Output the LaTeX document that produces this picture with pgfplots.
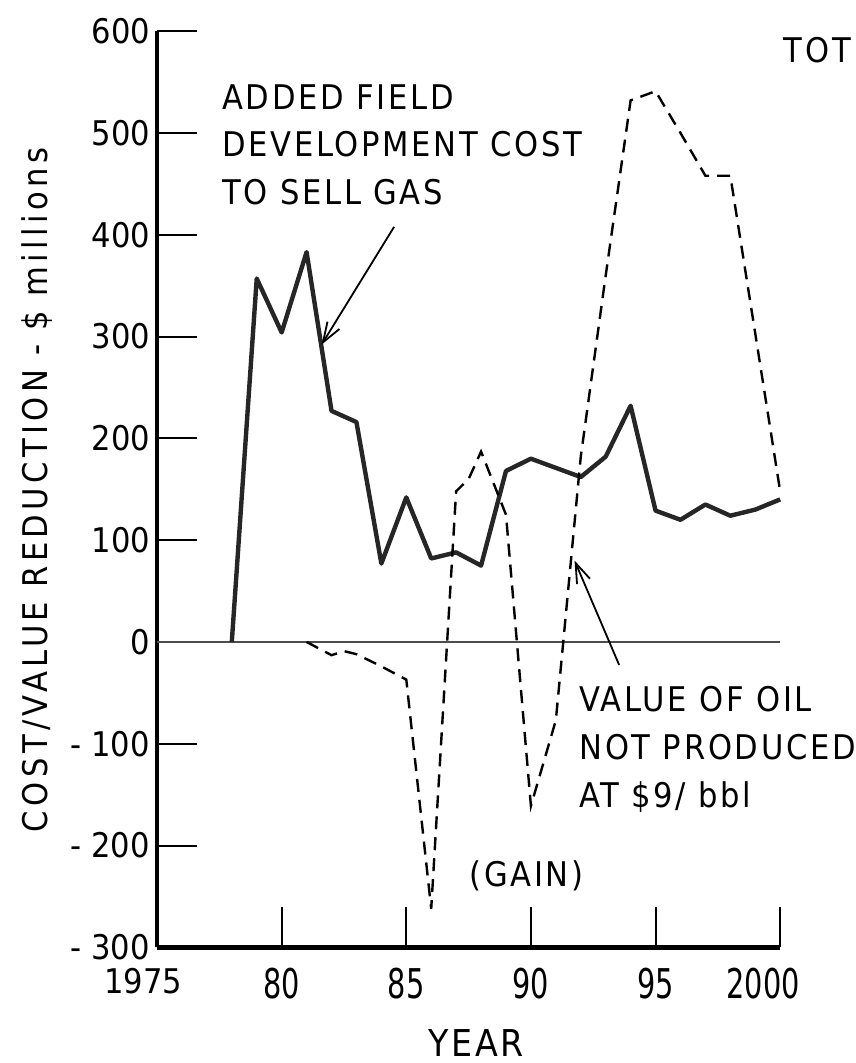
\documentclass[border=0pt]{standalone}
\usepackage{fontspec}
\setmainfont{DejaVu Sans Condensed}
\newfontfamily\annfont{DejaVu Sans Condensed}[LetterSpace=8]
\newfontfamily\ylfont{DejaVu Sans Condensed}[LetterSpace=13]
\newfontfamily\xtfont{DejaVu Sans Condensed}[FakeStretch=0.78]
\newfontfamily\ytfont{DejaVu Sans}[FakeStretch=0.9]
\usepackage{pgfplots}
\pgfplotsset{compat=1.18}
\usetikzlibrary{arrows.meta}

\pgfplotstableread{
year value
1978 0
1979 357
1980 304
1981 383
1982 227
1983 216
1984 77
1985 142
1986 82
1987 88
1988 75
1989 168
1990 180
1991 171
1992 162
1993 182
1994 232
1995 129
1996 120
1997 135
1998 124
1999 130
2000 140
}\fieldcost

\pgfplotstableread{
year value
1981 0
1982 -13
1982.5 -9
1983 -12
1984 -24
1985 -37
1986 -262
1987 148
1987.5 160
1988 187
1989 125
1990 -161
1991 -77
1992 182
1993 360
1994 532
1995 541
1996 500
1997 458
1998 458
2000 148
}\oilvalue

\begin{document}
\begin{tikzpicture}
\begin{axis}[
  scale only axis,
  width=311.5pt, height=458pt,
  xmin=1975, xmax=2000, ymin=-300, ymax=600,
  axis lines=left,
  axis line style={-, line width=2.2pt, black},
  tick align=inside,
  major tick length=20pt,
  tick style={line width=1pt, black},
  xtick={1975,1980,1985,1990,1995,2000},
  xticklabels={{\ytfont\fontsize{17}{17}\selectfont\hspace*{-14pt}1975},80,85,90,95,{\hspace*{-17pt}2000}},
  x tick label style={font=\xtfont\fontsize{20.5}{20.5}\selectfont, yshift=-7pt},
  ytick={-300,-200,-100,0,100,200,300,400,500,600},
  yticklabels={- 300,- 200,- 100,0,100,200,300,400,500,600},
  y tick label style={font=\ytfont\fontsize{17}{17}\selectfont},
  clip=false,
]
% zero line
\addplot[black!70, line width=1pt] coordinates {(1975,0) (2000,0)};
% added field development cost
\addplot[black!85, line width=2.2pt, line join=round] table[x=year, y=value] {\fieldcost};
% value of oil not produced
\addplot[black, line width=1.2pt, dash pattern=on 6.5pt off 4pt] table[x=year, y=value] {\oilvalue};

% annotations
\node[anchor=base west, inner sep=0, font=\annfont\fontsize{17}{17}\selectfont] at (axis cs:1977.6,522.6) {ADDED FIELD};
\node[anchor=base west, inner sep=0, font=\annfont\fontsize{17}{17}\selectfont] at (axis cs:1977.6,476.4) {DEVELOPMENT COST};
\node[anchor=base west, inner sep=0, font=\annfont\fontsize{17}{17}\selectfont] at (axis cs:1977.6,429.3) {TO SELL GAS};
\draw[line width=0.9pt, -{Straight Barb[length=10pt,width=7pt]}] (axis cs:1984.51,407.7) -- (axis cs:1981.6,292);

\node[anchor=base west, inner sep=0, font=\annfont\fontsize{17}{17}\selectfont] at (axis cs:1991.93,-68.8) {VALUE OF OIL};
\node[anchor=base west, inner sep=0, font=\annfont\fontsize{17}{17}\selectfont] at (axis cs:1991.93,-115.9) {NOT PRODUCED};
\node[anchor=base west, inner sep=0, font=\annfont\fontsize{17}{17}\selectfont] at (axis cs:1991.93,-163.1) {AT \$9/ bbl};
\draw[line width=0.9pt, -{Straight Barb[length=10pt,width=7pt]}] (axis cs:1993.54,-22.6) -- (axis cs:1991.75,80);

\node[anchor=base west, inner sep=0, font=\annfont\fontsize{17}{17}\selectfont] at (axis cs:1987.52,-240.7) {(GAIN)};
\node[anchor=base east, inner sep=0, font=\annfont\fontsize{17}{17}\selectfont] at (axis cs:2002.85,568.8) {TOT};

\node[anchor=base, inner sep=0, font=\annfont\fontsize{18.5}{18.5}\selectfont] at (axis cs:1987.8,-407.7) {YEAR};
\node[anchor=base, inner sep=0, rotate=90, font=\ylfont\fontsize{17}{17}\selectfont] at (axis cs:1970.59,149.3) {COST/VALUE REDUCTION - \$ millions};

\coordinate (bbSW) at (axis cs:1968.70,-413.6);
\coordinate (bbNE) at (axis cs:2003.01,630.6);
\end{axis}
\pgfresetboundingbox
\useasboundingbox (bbSW) rectangle (bbNE);
\end{tikzpicture}
\end{document}
